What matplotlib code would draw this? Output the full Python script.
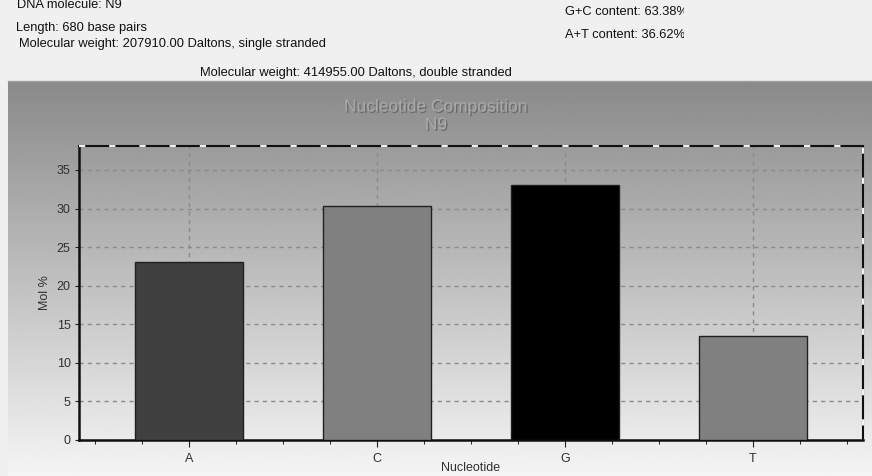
import numpy as np
import matplotlib
matplotlib.use("Agg")
import matplotlib.pyplot as plt
import matplotlib.patheffects as pe
from matplotlib.patches import Rectangle

# values
nucleotides = ["A", "C", "G", "T"]
mol_percent = [23.09, 30.29, 33.09, 13.53]
bar_colors = ["#404040", "#808080", "#000000", "#808080"]
y_ticks = [0, 5, 10, 15, 20, 25, 30, 35]

info_left = ["DNA molecule: N9",
             "Length: 680 base pairs",
             "Molecular weight: 207910.00 Daltons, single stranded"]
info_right = ["G+C content: 63.38%", "A+T content: 36.62%"]
info_double = "Molecular weight: 414955.00 Daltons, double stranded"

plt.rcParams["font.family"] = ["Liberation Sans", "DejaVu Sans"]

W, H = 872, 476
fig = plt.figure(figsize=(W / 100, H / 100), dpi=100)
fig.patch.set_facecolor("#f0f0f0")

# gradient panel behind the chart
bg = fig.add_axes([8 / W, 0, (W - 8) / W, (H - 82) / H])
grad = np.linspace(0.54, 0.96, 256).reshape(-1, 1)
bg.imshow(grad, cmap="gray", vmin=0, vmax=1, aspect="auto", extent=[0, 1, 0, 1])
bg.set_axis_off()
fig.add_artist(plt.Line2D([8 / W, 1], [(H - 81) / H] * 2, color="#a0a0a0", lw=1))

# header texts
ys = [5, 28, 44]
xs = [17, 16, 19]
for txt, x, y in zip(info_left, xs, ys):
    fig.text(x / W, 1 - y / H, txt, fontsize=9.3, color="#101010", va="center", ha="left")
for txt, y in zip(info_right, [12, 35]):
    fig.text(565 / W, 1 - y / H, txt, fontsize=9.3, color="#101010", va="center", ha="left")
# the right column is cut off in the original window
fig.add_artist(Rectangle((684 / W, 1 - 50 / H), (W - 684) / W, 50 / H,
                         transform=fig.transFigure, facecolor="#f0f0f0",
                         edgecolor="none", zorder=10))
fig.text(200 / W, 1 - 73 / H, info_double, fontsize=9.3, color="#101010", va="center", ha="left")

# main plot
ax = fig.add_axes([79 / W, 36 / H, 784 / W, 294 / H])
ax.set_facecolor("none")
x = np.arange(len(nucleotides))
ax.bar(x, mol_percent, width=0.575, color=bar_colors, edgecolor="#202020", linewidth=1, zorder=3)
ax.set_xlim(-0.583, 3.585)
ax.set_ylim(0, 38.1)
ax.set_yticks(y_ticks)
ax.set_xticks(x)
ax.set_xticklabels(nucleotides)
ax.set_xticks(np.arange(-0.5, 3.6, 0.25), minor=True)
ax.tick_params(axis="both", labelsize=9, labelcolor="#303030", color="#202020")
ax.tick_params(axis="x", which="major", length=5, pad=4)
ax.tick_params(axis="x", which="minor", length=3)
ax.tick_params(axis="y", length=3, pad=3)
ax.grid(True, axis="both", linestyle=(0, (3, 3)), color="#8a8a8a", linewidth=1, zorder=1)

for side in ["left", "bottom"]:
    ax.spines[side].set_linewidth(1.8)
    ax.spines[side].set_color("#101010")
for side in ["top", "right"]:
    ax.spines[side].set_linewidth(1.5)
    ax.spines[side].set_color("#101010")
# white dashes over the top and right frame
ax.plot([0, 1, 1], [1, 1, 0], transform=ax.transAxes, color="#f0f0f0",
        linestyle=(0, (3, 11.5)), linewidth=1.5, clip_on=False, zorder=5)

ax.set_ylabel("Mol %", fontsize=9, color="#303030", labelpad=4)
ax.set_xlabel("Nucleotide", fontsize=9, color="#303030", labelpad=-2)

emboss = [pe.withSimplePatchShadow(offset=(1, -1), shadow_rgbFace="#6a6a6a", alpha=1.0)]
for txt, y in [("Nucleotide Composition", 107), ("N9", 125)]:
    fig.text(436 / W, 1 - y / H, txt, fontsize=12.5,
             family=["Liberation Sans Narrow", "Liberation Sans"], color="#aaaaaa",
             ha="center", va="center", path_effects=emboss)

fig.savefig("out.png", dpi=100, facecolor=fig.get_facecolor())
